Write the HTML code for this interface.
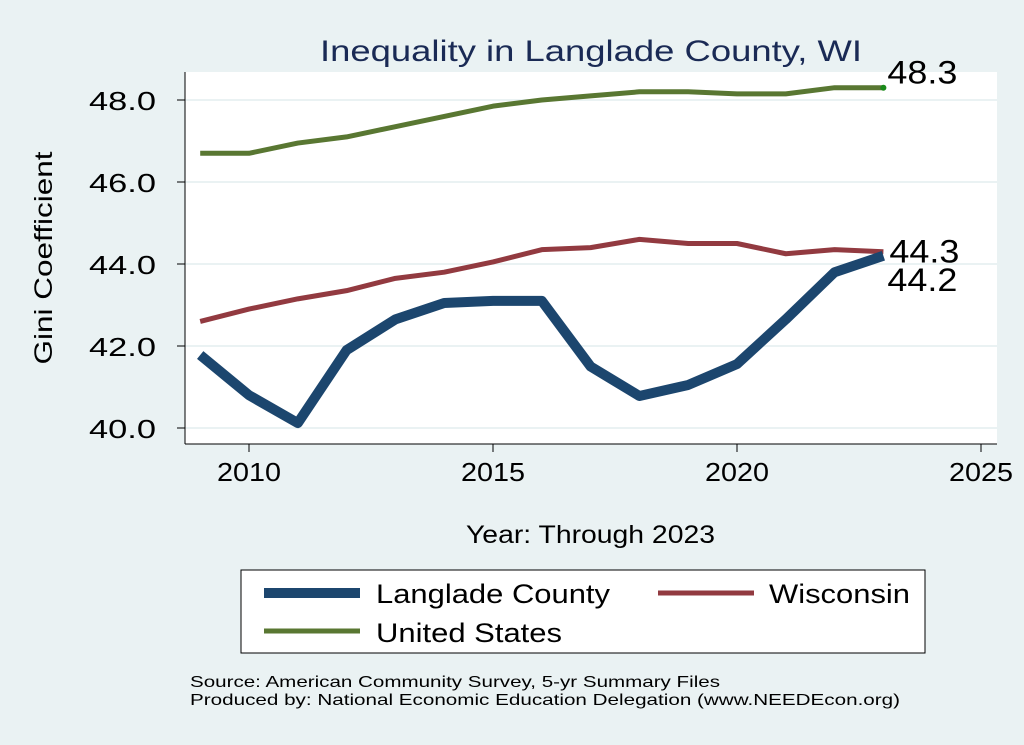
<!DOCTYPE html>
<html><head><meta charset="utf-8"><style>
body{margin:0;background:#eaf2f3;font-family:"Liberation Sans",sans-serif;}
svg{display:block}
</style></head><body>
<svg id="c" width="1024" height="745">
<rect x="0" y="0" width="1024" height="745" fill="#eaf2f3"/>
<rect x="185" y="72" width="812" height="372" fill="#fff"/>
<text x="320" y="61" font-size="30" fill="#1a2a55" textLength="542" lengthAdjust="spacingAndGlyphs">Inequality in Langlade County, WI</text>
<g id="grid"></g><g id="axes"></g><g id="series"></g>
<text x="52" y="258" font-size="25" text-anchor="middle" textLength="213" lengthAdjust="spacingAndGlyphs" transform="rotate(-90 52 258)">Gini Coefficient</text>
<text x="466" y="543" font-size="25" textLength="249" lengthAdjust="spacingAndGlyphs">Year: Through 2023</text>
<g>
<rect x="241" y="570" width="684" height="83" fill="#fff" stroke="#000" stroke-width="1"/>
<line x1="264" y1="593" x2="360" y2="593" stroke="#1c466e" stroke-width="10"/>
<text x="376" y="603" font-size="27" textLength="234" lengthAdjust="spacingAndGlyphs">Langlade County</text>
<line x1="658" y1="593" x2="754" y2="593" stroke="#923a40" stroke-width="5"/>
<text x="769" y="603" font-size="27" textLength="141" lengthAdjust="spacingAndGlyphs">Wisconsin</text>
<line x1="264" y1="631" x2="360" y2="631" stroke="#597732" stroke-width="5"/>
<text x="376" y="642" font-size="27" textLength="186" lengthAdjust="spacingAndGlyphs">United States</text>
</g>
<text x="190" y="687" font-size="16" textLength="530" lengthAdjust="spacingAndGlyphs">Source: American Community Survey, 5-yr Summary Files</text>
<text x="190" y="705" font-size="16" textLength="710" lengthAdjust="spacingAndGlyphs">Produced by: National Economic Education Delegation (www.NEEDEcon.org)</text>
</svg>
<script>
const years=[2009,2010,2011,2012,2013,2014,2015,2016,2017,2018,2019,2020,2021,2022,2023];
const langlade=[41.78,40.8,40.12,41.9,42.65,43.05,43.1,43.1,41.5,40.78,41.05,41.56,42.65,43.8,44.2];
const wisconsin=[42.6,42.9,43.15,43.35,43.65,43.8,44.05,44.35,44.4,44.6,44.5,44.5,44.25,44.35,44.3];
const us=[46.7,46.7,46.95,47.1,47.35,47.6,47.85,48.0,48.1,48.2,48.2,48.15,48.15,48.3,48.3];
const yTicks=[40,42,44,46,48];
const xTicks=[2010,2015,2020,2025];
const endLabels=["44.2","44.3","48.3"];
const NS="http://www.w3.org/2000/svg";
const X=v=>249+(v-2010)*48.8, Y=v=>428-(v-40)*41;
function mk(t,a,p){const e=document.createElementNS(NS,t);for(const k in a)e.setAttribute(k,a[k]);p.appendChild(e);return e;}
const grid=document.getElementById('grid'),axes=document.getElementById('axes'),ser=document.getElementById('series');
yTicks.forEach(t=>{
 const g=mk('line',{x1:185,x2:997,y1:Y(t),y2:Y(t),stroke:'#eaf2f3','stroke-width':2},grid);
 
 
 const tk=mk('line',{x1:177,x2:185,y1:Y(t),y2:Y(t),stroke:'#000'},axes);
 
 
 const l=mk('text',{x:89,y:Y(t)+10,'font-size':26,textLength:67,lengthAdjust:'spacingAndGlyphs'},axes);l.textContent=t.toFixed(1);
 
 
});
xTicks.forEach(t=>{
 const tk=mk('line',{x1:X(t),x2:X(t),y1:444,y2:452,stroke:'#000'},axes);
 
 
 const l=mk('text',{x:X(t)-32,y:481,'font-size':26,textLength:64,lengthAdjust:'spacingAndGlyphs'},axes);l.textContent=t;
 
 
});
const ya=mk('line',{x1:185,x2:185,y1:72,y2:444,stroke:'#000'},axes);


const xa=mk('line',{x1:185,x2:997,y1:444,y2:444,stroke:'#000'},axes);


function line(vals,color,w,name){
 const p=mk('polyline',{points:vals.map((v,i)=>X(years[i])+','+Y(v)).join(' '),fill:'none',stroke:color,'stroke-width':w,'stroke-linejoin':'round'},ser);
 
 
}
line(us,'#597732',5,'line-united-states');
line(wisconsin,'#923a40',5,'line-wisconsin');
line(langlade,'#1c466e',10,'line-langlade');
const dot=mk('circle',{cx:X(years[14]),cy:Y(us[14]),r:3,fill:'#1a8a1a'},ser);


const lx=X(years[years.length-1])+4;
const l1=mk('text',{x:lx,y:Y(langlade[14])+35,'font-size':32,textLength:70,lengthAdjust:'spacingAndGlyphs'},ser);l1.textContent=endLabels[0];


const l2=mk('text',{x:lx+2,y:Y(wisconsin[14])+11,'font-size':32,textLength:70,lengthAdjust:'spacingAndGlyphs'},ser);l2.textContent=endLabels[1];


const l3=mk('text',{x:lx,y:Y(us[14])-4,'font-size':32,textLength:70,lengthAdjust:'spacingAndGlyphs'},ser);l3.textContent=endLabels[2];


</script>
</body></html>
